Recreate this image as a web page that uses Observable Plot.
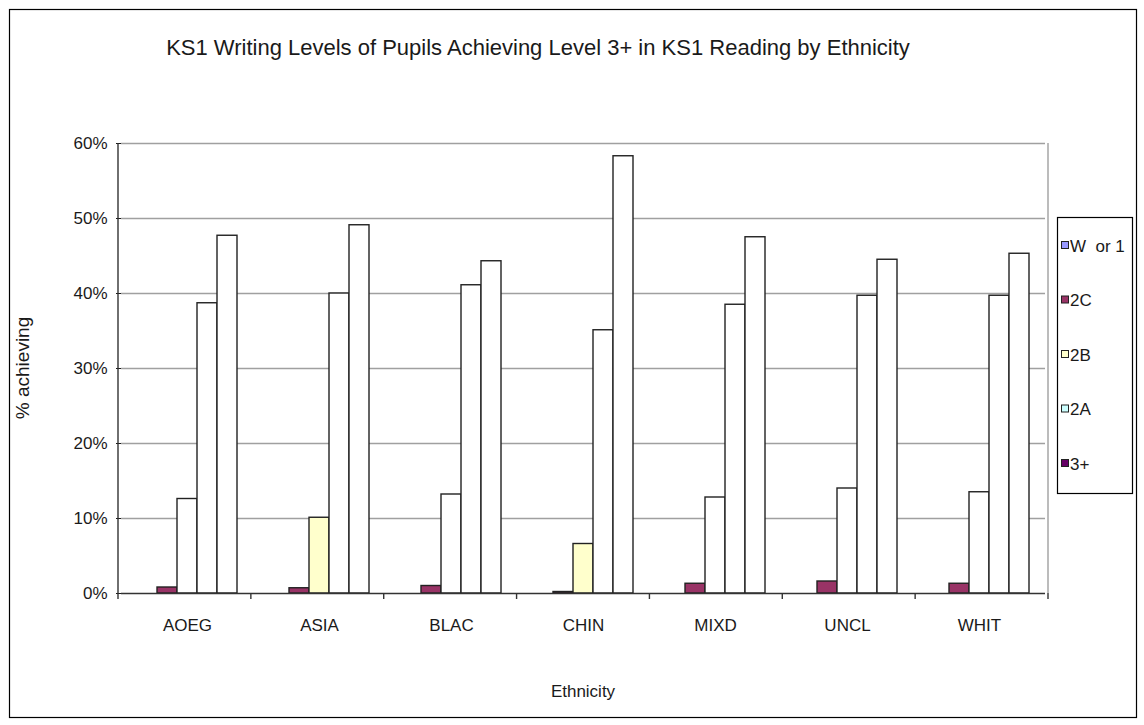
<!DOCTYPE html>
<html><head><meta charset="utf-8">
<script src="https://cdn.jsdelivr.net/npm/d3@7"></script>
<script src="https://cdn.jsdelivr.net/npm/@observablehq/plot@0.6"></script>
<style>body{margin:0;background:#fff} svg{display:block}</style>
</head><body><div id="chart"></div>
<script>
const categories = ["AOEG","ASIA","BLAC","CHIN","MIXD","UNCL","WHIT"];
const seriesNames = ["W or 1","2C","2B","2A","3+"];
const wOr1 = [0,0,0,0,0,0,0];
const level2C = [0.8,0.7,1.0,0.2,1.3,1.6,1.3];
const level2B = [12.6,10.1,13.2,6.6,12.8,14.0,13.5];
const level2A = [38.7,40.0,41.1,35.1,38.5,39.7,39.7];
const level3plus = [47.7,49.1,44.3,58.3,47.5,44.5,45.3];
const yTicks = [0,10,20,30,40,50,60];
const seriesColors = ["#9999ff","#993366","#ffffcc","#ccffff","#660066"];
const titleText = "KS1 Writing Levels of Pupils Achieving Level 3+ in KS1 Reading by Ethnicity";
const yLabel = "% achieving";
const xLabel = "Ethnicity";

const FONT = "'Liberation Sans',Arial,sans-serif";
const seriesValues = [wOr1, level2C, level2B, level2A, level3plus];
const rows = categories.flatMap((c, i) => seriesNames.map((s, j) => ({category: c, series: s, value: seriesValues[j][i]})));

// as rendered in the reference: only 2C and the ASIA/CHIN 2B bars are shown filled
function renderedFill(d) {
  if (d.series === "W or 1" || d.series === "2C") return seriesColors[seriesNames.indexOf(d.series)];
  if (d.series === "2B" && (d.category === "ASIA" || d.category === "CHIN")) return seriesColors[2];
  return "#ffffff";
}

const W = 1144, H = 725;
const plot = Plot.plot({
  width: W, height: H,
  marginLeft: 118, marginRight: 96, marginTop: 143, marginBottom: 132,
  style: {fontFamily: FONT, fontSize: "17px", color: "#1a1a1a", background: "#fff", overflow: "visible"},
  fx: {domain: categories, padding: 0, label: null, tickSize: 0, tickPadding: 25},
  x: {domain: seriesNames, paddingInner: 0, paddingOuter: 0.74, axis: null},
  y: {domain: [0, 60], ticks: yTicks, tickFormat: d => d + "%", label: null, tickSize: 5, tickPadding: 9},
  marks: [
    Plot.gridY(yTicks.slice(1), {stroke: "#a0a0a0", strokeOpacity: 1, strokeWidth: 1.4}),
    Plot.barY(rows, {fx: "category", x: "series", y: "value", fill: renderedFill, stroke: "#222", strokeWidth: 1.4, inset: 0}),
    Plot.ruleY([0], {stroke: "#333", strokeWidth: 1.4})
  ]
});
document.getElementById("chart").appendChild(plot);

const svg = d3.select(plot);
const fx = plot.scale("fx");
const ys = plot.scale("y");
const x0 = fx.range[0], x1 = fx.range[1];
const y0 = ys.apply(0), yTop = ys.apply(60);
const step = (x1 - x0) / categories.length;
const g = svg.append("g");
// y axis line and right plot border
g.append("line").attr("x1", x0).attr("x2", x0).attr("y1", yTop).attr("y2", y0).attr("stroke", "#333").attr("stroke-width", 1.4);
g.append("line").attr("x1", x1).attr("x2", x1).attr("y1", yTop).attr("y2", y0).attr("stroke", "#a0a0a0").attr("stroke-width", 1.4);
// category boundary ticks
d3.range(categories.length + 1).forEach(i => {
  const xx = x0 + i * step;
  g.append("line").attr("x1", xx).attr("x2", xx).attr("y1", y0).attr("y2", y0 + 6).attr("stroke", "#333").attr("stroke-width", 1.4);
});
// outer border
svg.append("rect").attr("x", 9.5).attr("y", 9.5).attr("width", W - 17).attr("height", H - 17)
  .attr("fill", "none").attr("stroke", "#000").attr("stroke-width", 1.2);
// title
svg.append("text").attr("x", 538).attr("y", 55).attr("text-anchor", "middle")
  .attr("font-family", FONT).attr("font-size", 22).attr("fill", "#1a1a1a").text(titleText);
// axis titles
svg.append("text").attr("transform", `translate(29,${(yTop + y0) / 2}) rotate(-90)`).attr("text-anchor", "middle")
  .attr("font-family", FONT).attr("font-size", 19).attr("fill", "#1a1a1a").text(yLabel);
svg.append("text").attr("x", (x0 + x1) / 2).attr("y", 697).attr("text-anchor", "middle")
  .attr("font-family", FONT).attr("font-size", 17).attr("fill", "#1a1a1a").text(xLabel);
// legend
const lg = svg.append("g").attr("text-anchor", "start");
lg.append("rect").attr("x", 1057.5).attr("y", 217.5).attr("width", 75).attr("height", 276)
  .attr("fill", "#fff").attr("stroke", "#000").attr("stroke-width", 1.2);
seriesNames.forEach((s, i) => {
  const cy = 245 + i * 54.5;
  lg.append("rect").attr("x", 1061.5).attr("y", cy - 3.5).attr("width", 7).attr("height", 7)
    .attr("fill", seriesColors[i]).attr("stroke", "#222").attr("stroke-width", 1);
  lg.append("text").attr("x", 1070).attr("y", cy + 6.5).attr("text-anchor", "start").attr("font-family", FONT).attr("font-size", 17)
    .attr("fill", "#1a1a1a").attr("xml:space", "preserve").text(s === "W or 1" ? "W  or 1" : s);
});
</script></body></html>
